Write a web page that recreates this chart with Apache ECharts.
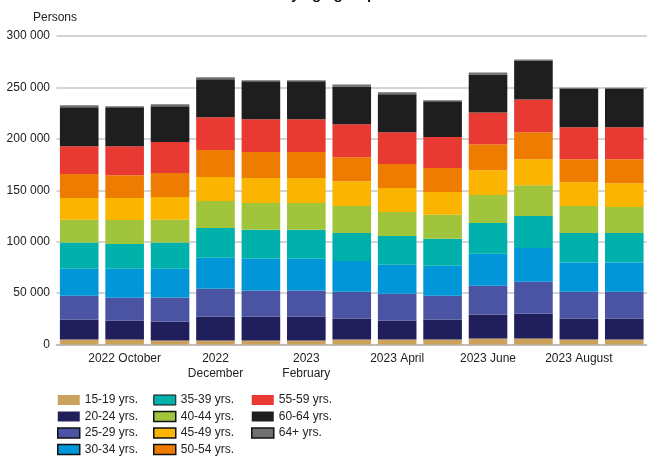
<!DOCTYPE html>
<html>
<head>
<meta charset="utf-8">
<script src="https://cdn.jsdelivr.net/npm/echarts@6/dist/echarts.min.js"></script>
<style>
html,body{margin:0;padding:0;background:#fff;}
#chart{width:647px;height:457px;}
</style>
</head>
<body>
<div id="chart"></div>
<script>
// Months (categories)
var categories = ["2022 September","2022 October","2022 November","2022 December","2023 January","2023 February","2023 March","2023 April","2023 May","2023 June","2023 July","2023 August","2023 September"];
// Displayed tick labels (shown for every second month)
var tickLabels = ["2022 September","2022 October","2022 November","2022\nDecember","2023 January","2023\nFebruary","2023 March","2023 April","2023 May","2023 June","2023 July","2023 August","2023 September"];
var yTicks = [0, 50000, 100000, 150000, 200000, 250000, 300000];

// Persons per age group
var age15_19 = [4800, 4800, 3900, 3900, 3900, 3900, 4800, 4800, 4800, 5800, 5800, 4800, 4800];
var age20_24 = [19400, 18400, 18400, 23300, 23300, 23300, 20300, 18400, 19400, 23300, 24200, 20300, 20300];
var age25_29 = [23300, 22300, 23300, 27100, 25200, 25200, 26200, 26200, 23300, 28100, 31000, 26200, 26200];
var age30_34 = [26200, 28100, 28100, 30000, 31000, 31000, 30000, 28100, 29100, 31000, 32900, 28400, 28400];
var age35_39 = [25500, 24200, 25500, 29100, 28100, 28100, 27100, 28100, 26200, 30000, 31000, 28700, 28700];
var age40_44 = [22000, 23300, 22000, 26200, 26200, 26200, 26200, 23300, 23300, 27100, 30000, 26200, 25200];
var age45_49 = [21300, 21300, 22300, 23300, 24200, 24200, 24200, 23300, 22300, 24200, 25200, 23300, 23300];
var age50_54 = [23300, 22300, 23300, 26200, 25200, 25200, 23300, 23300, 23300, 25200, 26200, 22300, 23300];
var age55_59 = [27100, 28100, 30000, 32000, 32000, 32000, 32000, 31000, 30000, 31000, 32000, 31000, 31000];
var age60_64 = [37800, 37800, 34900, 36800, 36800, 36800, 36800, 36800, 34900, 36800, 37800, 37800, 37800];
var age64plus = [1900, 1000, 1900, 1900, 1000, 1000, 1900, 1900, 1000, 1900, 1000, 700, 700];

var seriesNames = ["15-19 yrs.","20-24 yrs.","25-29 yrs.","30-34 yrs.","35-39 yrs.","40-44 yrs.","45-49 yrs.","50-54 yrs.","55-59 yrs.","60-64 yrs.","64+ yrs."];
var seriesData = [age15_19, age20_24, age25_29, age30_34, age35_39, age40_44, age45_49, age50_54, age55_59, age60_64, age64plus];
var colors = ["#CCA15B","#201E5B","#4B54A2","#0096D8","#00B0AB","#A1C43D","#FBB500","#EE7C00","#E83A32","#1E1E1E","#707070"];
var legendBorder = [0, 0, 1.5, 1.5, 1, 1.5, 1.5, 1.5, 0, 0, 1.5];

var font = "'Liberation Sans', Arial, sans-serif";

function fmt(v){ return String(v).replace(/\B(?=(\d{3})+(?!\d))/g, ' '); }

var series = seriesNames.map(function(n, i){
  return {
    name: n, type: 'bar', stack: 'total', data: seriesData[i],
    barCategoryGap: '15%',
    itemStyle: {color: colors[i]},
    emphasis: {disabled: true}
  };
});

function legendData(idx){
  return idx.map(function(i){
    return {name: seriesNames[i], itemStyle: {borderColor: '#111', borderWidth: legendBorder[i]}};
  });
}
function mkLegend(left, idx){
  return {
    orient: 'vertical', left: left, top: 393, icon: 'rect',
    itemWidth: 22, itemHeight: 10, itemGap: 2.5, padding: 0,
    selectedMode: false,
    textStyle: {fontFamily: font, fontSize: 12, color: '#222', lineHeight: 14},
    data: legendData(idx)
  };
}

var chart = echarts.init(document.getElementById('chart'), null, {renderer: 'canvas'});
chart.setOption({
  animation: false,
  color: colors,
  grid: {left: 56.5, right: -5, top: 36, bottom: 112.5, containLabel: false},
  xAxis: {
    type: 'category', data: categories,
    axisTick: {show: false},
    axisLine: {lineStyle: {color: '#bdbdbd', width: 2}},
    axisLabel: {
      interval: function(index){ return index % 2 === 1; },
      formatter: function(v, i){ return tickLabels[i]; },
      fontFamily: font, fontSize: 12, color: '#222', margin: 7, lineHeight: 14.5
    }
  },
  yAxis: {
    type: 'value', min: yTicks[0], max: yTicks[yTicks.length-1], interval: yTicks[1]-yTicks[0],
    axisLine: {show: false}, axisTick: {show: false},
    splitLine: {lineStyle: {color: '#c6c6c6', width: 1.5}},
    axisLabel: {formatter: fmt, fontFamily: font, fontSize: 12, color: '#222', margin: 6.5}
  },
  legend: [mkLegend(57, [0,1,2,3]), mkLegend(153, [4,5,6,7]), mkLegend(251, [8,9,10])],
  graphic: [
    {type: 'text', left: 33, top: 12, style: {text: 'Persons', font: '12px ' + font, fill: '#222'}},
    {type: 'text', x: 329, y: 2.5, style: {text: 'by age group', font: 'bold 15px ' + font, fill: '#111', align: 'center', verticalAlign: 'bottom'}}
  ],
  series: series
});
</script>
</body>
</html>
